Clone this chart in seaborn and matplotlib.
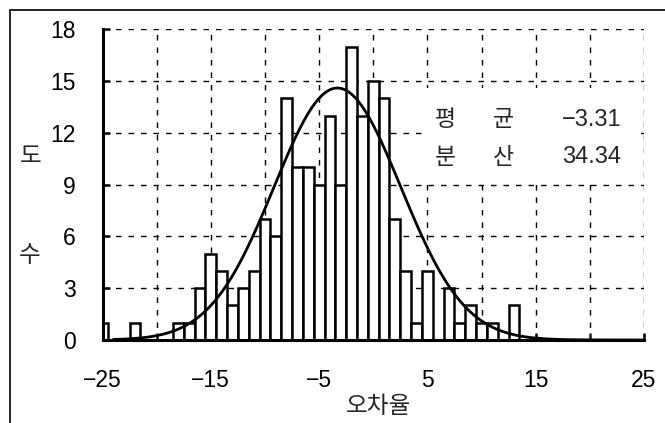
import numpy as np
import pandas as pd
import matplotlib
matplotlib.use("Agg")
import matplotlib.pyplot as plt
from matplotlib.lines import Line2D
from matplotlib.patches import Rectangle
from matplotlib.ticker import MultipleLocator, FixedLocator
import seaborn as sns

# ---- data ----
bin_centers = [-25, -22, -18, -17, -16, -15, -14, -13, -12, -11, -10, -9, -8, -7, -6,
               -5, -4, -3, -2, -1, 0, 1, 2, 3, 4, 5, 6, 7, 8, 9, 10, 11, 12, 13]
counts = [1, 1, 1, 1, 3, 5, 4, 2, 3, 4, 7, 6, 14, 10, 10,
          9, 13, 9, 17, 13, 15, 14, 7, 4, 1, 4, 0, 3, 1, 2, 1, 1, 0, 2]
mean_val = -3.31
var_val = 34.34
curve_peak = 14.6          # height of the fitted normal curve
x_ticks = [-25, -15, -5, 5, 15, 25]
y_ticks = [0, 3, 6, 9, 12, 15, 18]
stat_labels = [["평", "균"], ["분", "산"]]
stat_values = ["-3.31", "34.34"]
x_label = "오차율"
y_label_chars = ["도", "수"]

sns.set_theme(style="white")
plt.rcParams['font.family'] = ['Liberation Sans', 'Noto Sans CJK KR', 'DejaVu Sans']

W, H = 665, 423
fig = plt.figure(figsize=(6.65, 4.23), dpi=100)
ax = fig.add_axes([102.5 / W, 1 - 340 / H, (644 - 102.5) / W, (340 - 29.3) / H])

df = pd.DataFrame({"x": bin_centers, "w": counts})
sns.histplot(data=df, x="x", weights="w", binwidth=1, binrange=(-25.5, 13.5), ax=ax,
             stat="count", color="white", alpha=1, edgecolor="black", linewidth=1.8,
             shrink=1)

# fitted normal curve from the stated mean and variance
sd = np.sqrt(var_val)
xs = np.linspace(-24, 25, 400)
ys = curve_peak * np.exp(-0.5 * ((xs - mean_val) / sd) ** 2)
sns.lineplot(x=xs, y=ys, ax=ax, color="black", linewidth=2.0)

ax.set_xlim(-25, 25)
ax.set_ylim(0, 18)
ax.xaxis.set_major_locator(FixedLocator(x_ticks))
ax.xaxis.set_minor_locator(MultipleLocator(5))
ax.yaxis.set_major_locator(FixedLocator(y_ticks))
ax.grid(True, which="both", axis="x", color="black", linestyle=(0, (4, 5)), linewidth=1.0)
ax.grid(True, which="major", axis="y", color="black", linestyle=(0, (4, 5)), linewidth=1.0)
ax.set_axisbelow(True)

# white panel behind the statistics text (hides the grid there)
ax.add_patch(Rectangle((0.592, 0.515), 0.402, 0.296, transform=ax.transAxes,
                       facecolor="white", edgecolor="none", zorder=0.8))

for s in ["top", "right"]:
    ax.spines[s].set_visible(False)
for s in ["left", "bottom"]:
    ax.spines[s].set_color("black")
    ax.spines[s].set_linewidth(2.2)

ax.tick_params(axis="both", which="major", direction="in", length=5, width=1.8,
               colors="black", labelsize=16.5)
ax.tick_params(axis="x", which="major", pad=21, bottom=True)
ax.tick_params(axis="x", which="minor", direction="in", length=5, width=1.8, bottom=True)
ax.tick_params(axis="y", which="major", pad=19, left=True)
ax.set_xticklabels([str(t).replace("-", "−") for t in x_ticks])
ax.set_yticklabels([str(t) for t in y_ticks])
ax.set_xlabel("")
ax.set_ylabel("")

# statistics text
for i, (labs, val) in enumerate(zip(stat_labels, stat_values)):
    ypx = 120 + i * 37
    for j, ch in enumerate(labs):
        fig.text((445 + j * 58) / W, 1 - ypx / H, ch, fontsize=16.5, ha="center",
                 va="center", family=['Noto Sans CJK KR'])
    fig.text(621 / W, 1 - ypx / H, val.replace("-", "−"), fontsize=17,
             ha="right", va="center")

fig.text(378 / W, 1 - 406 / H, x_label, fontsize=17, ha="center", va="center",
         family=['Noto Sans CJK KR'])
fig.text(31 / W, 1 - 157 / H, y_label_chars[0], fontsize=17, ha="center", va="center",
         family=['Noto Sans CJK KR'])
fig.text(30 / W, 1 - 255 / H, y_label_chars[1], fontsize=17, ha="center", va="center",
         family=['Noto Sans CJK KR'])

# outer frame lines
fig.add_artist(Line2D([10 / W, 10 / W], [0, 1 - 10 / H], color="black", lw=1.2,
                      transform=fig.transFigure))
fig.add_artist(Line2D([10 / W, 1], [1 - 10 / H, 1 - 10 / H], color="black", lw=1.2,
                      transform=fig.transFigure))

fig.savefig("out.png", dpi=100)
